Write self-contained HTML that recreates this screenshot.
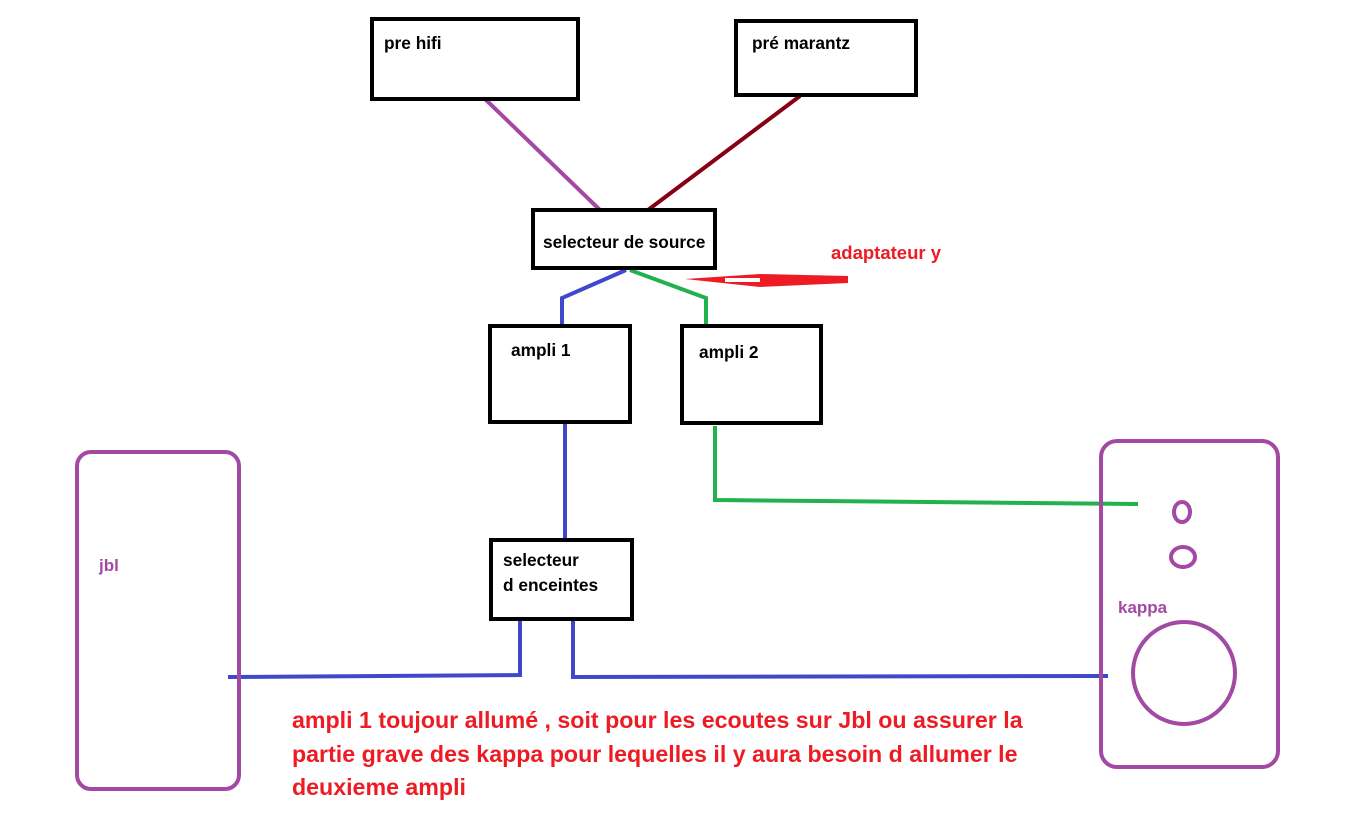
<!DOCTYPE html>
<html><head><meta charset="utf-8"><style>
html,body{margin:0;padding:0;background:#fff;}
svg{display:block}
text{font-family:"Liberation Sans",sans-serif;font-weight:bold;}
</style></head><body>
<svg width="1369" height="816" viewBox="0 0 1369 816" xmlns="http://www.w3.org/2000/svg">
<rect width="1369" height="816" fill="#fff"/>
<line x1="484" y1="98" x2="600" y2="210" stroke="#a349a4" stroke-width="4"/>
<line x1="800" y1="96" x2="648" y2="210" stroke="#880015" stroke-width="4"/>
<polyline points="626,270 562,298 562,328" fill="none" stroke="#3f48cc" stroke-width="4"/>
<polyline points="630,270 706,298 706,326" fill="none" stroke="#22b14c" stroke-width="4"/>
<line x1="565" y1="424" x2="565" y2="540" stroke="#3f48cc" stroke-width="4"/>
<polyline points="715,426 715,500 1138,504" fill="none" stroke="#22b14c" stroke-width="4"/>
<polyline points="228,677 520,675 520,620" fill="none" stroke="#3f48cc" stroke-width="4"/>
<polyline points="573,620 573,677 1108,676" fill="none" stroke="#3f48cc" stroke-width="4"/>
<polygon points="685,279 760,274 848,276 848,283 760,287" fill="#ed1c24"/>
<rect x="725" y="278" width="35" height="4" fill="#fff"/>
<g fill="#fff" stroke="#000" stroke-width="4">
<rect x="372" y="19" width="206" height="80"/>
<rect x="736" y="21" width="180" height="74"/>
<rect x="533" y="210" width="182" height="58"/>
<rect x="490" y="326" width="140" height="96"/>
<rect x="682" y="326" width="139" height="97"/>
<rect x="491" y="540" width="141" height="79"/>
</g>
<g fill="none" stroke="#a349a4" stroke-width="4">
<rect x="77" y="452" width="162" height="337" rx="14"/>
<rect x="1101" y="441" width="177" height="326" rx="16"/>
<ellipse cx="1182" cy="512" rx="8" ry="10"/>
<ellipse cx="1183" cy="557" rx="12" ry="10"/>
<circle cx="1184" cy="673" r="51"/>
</g>
<g font-size="17.3" fill="#000">
<text x="384" y="49">pre hifi</text>
<text x="752" y="49">pré marantz</text>
<text x="543" y="248">selecteur de source</text>
<text x="511" y="356">ampli 1</text>
<text x="699" y="358">ampli 2</text>
<text x="503" y="566">selecteur</text>
<text x="503" y="591">d enceintes</text>
</g>
<text x="831" y="259" font-size="18.5" fill="#ed1c24">adaptateur y</text>
<text x="99" y="571" font-size="17" fill="#a349a4">jbl</text>
<text x="1118" y="613" font-size="17" fill="#a349a4">kappa</text>
<g font-size="23.2" fill="#ed1c24">
<text x="292" y="728">ampli 1 toujour allumé , soit pour les ecoutes sur Jbl ou assurer la</text>
<text x="292" y="762">partie grave des kappa pour lequelles il y aura besoin d allumer le</text>
<text x="292" y="795">deuxieme ampli</text>
</g>
</svg>
</body></html>
